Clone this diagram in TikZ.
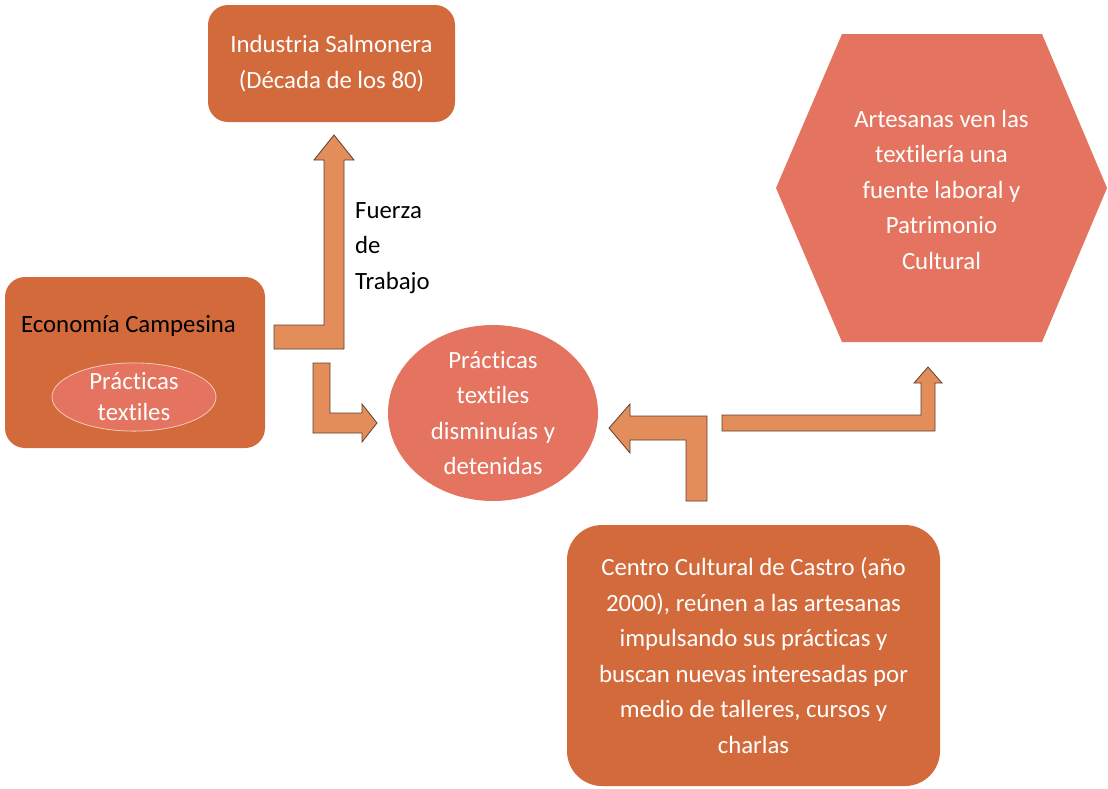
\documentclass[tikz,border=0pt]{standalone}
\usepackage{fontspec}
\setmainfont{Carlito}[Ligatures=NoCommon]
\usetikzlibrary{shapes.geometric}
\definecolor{boxor}{HTML}{D36A3C}
\definecolor{salmon}{HTML}{E4735F}
\definecolor{arrowor}{HTML}{E38D5A}
\definecolor{arrowline}{HTML}{5E4030}
\definecolor{ellline}{HTML}{F6C9B8}
\begin{document}
\begin{tikzpicture}[x=1pt,y=-1pt,
  box/.style={fill=boxor, draw=none, rounded corners=20pt},
  wtext/.style={text=white, align=center, font=\fontsize{24.8}{35.5}\selectfont},
  btext/.style={text=black, align=left, font=\fontsize{24.8}{35.5}\selectfont},
  barrow/.style={fill=arrowor, draw=arrowline, line width=0.8pt, line join=miter}]
\useasboundingbox (0,0) rectangle (1108,788);

% Industria Salmonera
\node[box, wtext, minimum width=247pt, minimum height=117pt, inner sep=0pt] (ind) at (331.5,63.5)
  {Industria Salmonera\\(Década de los 80)};

% Economia Campesina
\node[box, minimum width=260pt, minimum height=171pt, inner sep=0pt] (eco) at (135,362.5) {};
\node[btext, anchor=center] (ecot) at (128.5,326) {Economía Campesina};
\node[ellipse, fill=salmon, draw=ellline, line width=0.8pt, minimum width=164pt, minimum height=64pt,
  inner sep=0pt, text=white, align=center, font=\fontsize{24.8}{31}\selectfont] (pt) at (134,397)
  {Prácticas\\textiles};

% Center ellipse
\node[ellipse, fill=salmon, draw=none, minimum width=210pt, minimum height=176pt, inner sep=0pt, wtext]
  (cen) at (493,413) {Prácticas\\textiles\\disminuías y\\detenidas};

% Hexagon
\fill[salmon] (842,34) -- (1042,34) -- (1107,188) -- (1042,342) -- (842,342) -- (776,188) -- cycle;
\node[wtext] (hex) at (941.5,189.5) {Artesanas ven las\\textilería una\\fuente laboral y\\Patrimonio\\Cultural};

% Centro Cultural
\node[box, rounded corners=35pt, wtext, minimum width=373pt, minimum height=261pt, inner sep=0pt]
  (cc) at (753.5,655.5)
  {Centro Cultural de Castro (año\\2000), reúnen a las artesanas\\impulsando sus prácticas y\\buscan nuevas interesadas por\\medio de talleres, cursos y\\charlas};

% Fuerza de Trabajo
\node[btext, anchor=west, inner sep=0pt] (ft) at (355,248) {Fuerza\\de\\Trabajo};

% Arrows
\draw[barrow] (274,325) -- (324,325) -- (324,160) -- (314,160) -- (334,135) -- (354,160)
  -- (344,160) -- (344,349) -- (274,349) -- cycle;
\draw[barrow] (313,363) -- (330,363) -- (330,413) -- (362,413) -- (362,404) -- (377,423)
  -- (362,442) -- (362,433) -- (313,433) -- cycle;
\draw[barrow] (707,501) -- (686,501) -- (686,440) -- (630,440) -- (630,453) -- (609,428)
  -- (630,404) -- (630,416) -- (707,416) -- cycle;
\draw[barrow] (722,415) -- (921,415) -- (921,383) -- (914,383) -- (928,367) -- (942,383)
  -- (935,383) -- (935,431) -- (722,431) -- cycle;
\end{tikzpicture}
\end{document}
